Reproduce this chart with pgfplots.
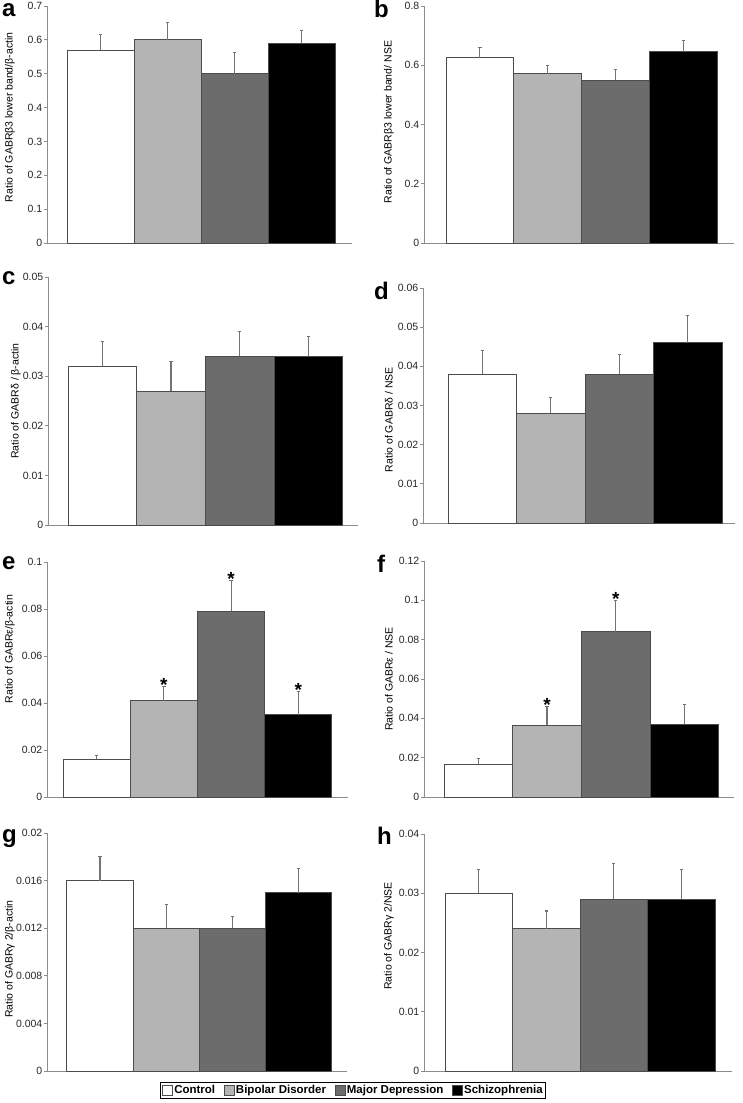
\documentclass[border=0pt]{standalone}
\usepackage{fontspec}
\setmainfont{Liberation Sans}
\usepackage{pgfplots}
\pgfplotsset{compat=1.18}

\definecolor{bdgray}{HTML}{B4B4B4}
\definecolor{mdgray}{HTML}{6C6C6C}

\pgfplotsset{
  panel/.style={
    scale only axis, clip=false,
    axis x line*=bottom, axis y line*=left,
    axis line style={black!45, line width=0.8pt, -},
    xtick=\empty, ymin=0,
    tick align=outside, major tick length=3pt,
    ytick style={black!45, line width=0.8pt},
    yticklabel style={font=\fontsize{10.5}{12}\selectfont, text=black!85, inner sep=1.5pt},
    scaled y ticks=false,
    /pgf/number format/.cd, fixed, precision=3, assume math mode=true,
    /pgfplots/.cd,
  },
  ylab/.style 2 args={ylabel style={at={([xshift=-#1]rel axis cs:0,#2)}, anchor=south,
    inner sep=0pt, font=\fontsize{10.5}{12}\selectfont}},
  gbar/.style={ybar, bar width=1, bar shift=0pt, fill=#1, draw=black!70, line width=0.8pt,
    legend image code/.code={\draw[fill=#1, draw=black!70, line width=0.8pt] (0pt,-5pt) rectangle (10pt,5pt);},
    error bars/.cd, y dir=plus, y explicit,
    error bar style={black!55, line width=1.1pt},
    error mark options={rotate=90, mark size=1.6pt, black!55, line width=1.1pt}},
  stars/.style={draw=none, mark=none,
    nodes near coords={\fontsize{19}{19}\selectfont\bfseries *},
    every node near coord/.style={anchor=base, inner sep=0pt, yshift=-5pt}},
}

% value / error for Control, Bipolar, Major depression, Schizophrenia
\newcommand\bars[8]{%
  \addplot[gbar=white]  coordinates {(0,#1) +- (0,#2)};
  \addplot[gbar=bdgray] coordinates {(1,#3) +- (0,#4)};
  \addplot[gbar=mdgray] coordinates {(2,#5) +- (0,#6)};
  \addplot[gbar=black]  coordinates {(3,#7) +- (0,#8)};
}

\begin{document}
\begin{tikzpicture}
\path[use as bounding box] (0pt,0pt) rectangle (743pt,1103pt);

% a
\begin{axis}[panel, at={(47pt,860pt)}, anchor=south west, width=305pt, height=237pt,
  xmin=-0.80, xmax=3.75, ymax=0.7, ytick={0,0.1,0.2,0.3,0.4,0.5,0.6,0.7},
  ylab={32pt}{0.53}, ylabel={Ratio of GABRβ3 lower band/β-actin}]
  \bars{0.57}{0.047}{0.60}{0.052}{0.50}{0.062}{0.59}{0.037}
\end{axis}
% b
\begin{axis}[panel, at={(424pt,860pt)}, anchor=south west, width=310pt, height=237pt,
  xmin=-0.825, xmax=3.75, ymax=0.8, ytick={0,0.2,0.4,0.6,0.8},
  ylab={30pt}{0.51}, ylabel={Ratio of GABRβ3 lower band/ NSE}]
  \bars{0.626}{0.035}{0.571}{0.029}{0.549}{0.038}{0.646}{0.036}
\end{axis}
% c
\begin{axis}[panel, at={(48pt,578pt)}, anchor=south west, width=310pt, height=248pt,
  xmin=-0.79, xmax=3.72, ymax=0.05, ytick={0,0.01,0.02,0.03,0.04,0.05},
  ylab={27pt}{0.5}, ylabel={Ratio of GABRδ / β-actin}]
  \bars{0.032}{0.005}{0.027}{0.006}{0.034}{0.005}{0.034}{0.004}
\end{axis}
% d
\begin{axis}[panel, at={(423pt,580pt)}, anchor=south west, width=312pt, height=235pt,
  xmin=-0.865, xmax=3.69, ymax=0.06, ytick={0,0.01,0.02,0.03,0.04,0.05,0.06},
  ylab={30pt}{0.44}, ylabel={Ratio of GABRδ / NSE}]
  \bars{0.038}{0.006}{0.028}{0.004}{0.038}{0.005}{0.046}{0.007}
\end{axis}
% e
\begin{axis}[panel, at={(47pt,306pt)}, anchor=south west, width=301pt, height=235pt,
  xmin=-0.74, xmax=3.74, ymax=0.1, ytick={0,0.02,0.04,0.06,0.08,0.1},
  ylab={32pt}{0.63}, ylabel={Ratio of GABRε/β-actin}]
  \bars{0.016}{0.0018}{0.041}{0.006}{0.079}{0.013}{0.035}{0.010}
  \addplot[stars] coordinates {(1,0.047) (2,0.092) (3,0.045)};
\end{axis}
% f
\begin{axis}[panel, at={(424pt,306pt)}, anchor=south west, width=310pt, height=236pt,
  xmin=-0.79, xmax=3.72, ymax=0.12, ytick={0,0.02,0.04,0.06,0.08,0.1,0.12},
  ylab={31pt}{0.5}, ylabel={Ratio of GABRε / NSE}]
  \bars{0.0166}{0.003}{0.0365}{0.0095}{0.084}{0.016}{0.037}{0.010}
  \addplot[stars] coordinates {(1,0.046) (2,0.100)};
\end{axis}
% g
\begin{axis}[panel, at={(47pt,32pt)}, anchor=south west, width=300pt, height=238pt,
  xmin=-0.80, xmax=3.73, ymax=0.02, ytick={0,0.004,0.008,0.012,0.016,0.02},
  ylab={32pt}{0.47}, ylabel={Ratio of GABRγ 2/β-actin},
  legend columns=4,
  legend style={at={(rel axis cs:0.377,-0.046)}, anchor=north west, draw=black,
    line width=0.8pt, inner sep=1.5pt,
    font=\fontsize{11.5}{13}\selectfont\bfseries,
    /tikz/every even column/.append style={column sep=7pt},
    nodes={inner sep=1.5pt}}]
  \bars{0.016}{0.002}{0.012}{0.002}{0.012}{0.001}{0.015}{0.002}
  \legend{Control, Bipolar Disorder, Major Depression, Schizophrenia}
\end{axis}
% h
\begin{axis}[panel, at={(424pt,32pt)}, anchor=south west, width=308pt, height=237pt,
  xmin=-0.81, xmax=3.75, ymax=0.04, ytick={0,0.01,0.02,0.03,0.04},
  ylab={30pt}{0.57}, ylabel={Ratio of GABRγ 2/NSE}]
  \bars{0.030}{0.004}{0.024}{0.003}{0.029}{0.006}{0.029}{0.005}
\end{axis}

% panel letters
\begin{scope}[every node/.style={anchor=base west, inner sep=0pt,
    font=\fontsize{24}{24}\selectfont\bfseries}]
  \node at (2pt,1086pt) {a};
  \node at (374pt,1085pt) {b};
  \node at (2pt,818pt) {c};
  \node at (374pt,803pt) {d};
  \node at (2pt,533pt) {e};
  \node at (377pt,530pt) {f};
  \node at (2pt,260pt) {g};
  \node at (377pt,258pt) {h};
\end{scope}
\end{tikzpicture}
\end{document}
